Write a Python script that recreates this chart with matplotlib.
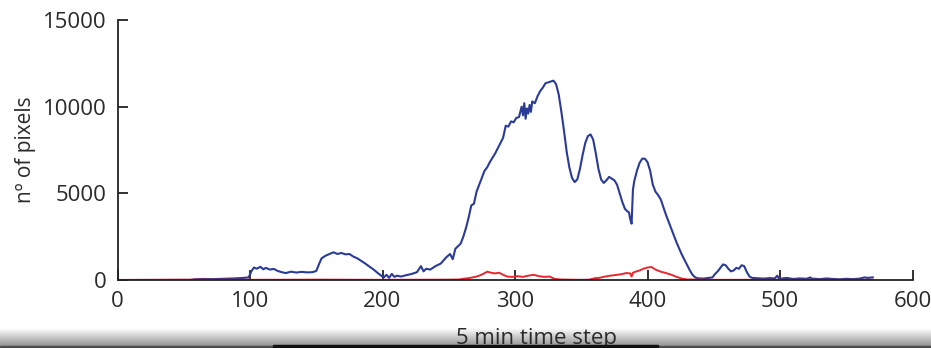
import numpy as np
import matplotlib.pyplot as plt
from matplotlib.patches import Rectangle

plt.rcParams['font.family'] = ['Open Sans', 'DejaVu Sans']

# blue series (time step, n of pixels)
blue_t = [0, 20, 40, 55, 58, 65, 72, 80, 88, 95, 99,
          101, 103, 105, 108, 110, 112, 115, 118, 121, 124, 127, 131, 135, 139, 143, 147, 150,
          152, 154, 157, 160, 163, 166, 169, 172, 175, 178, 181, 184, 187, 190, 193, 196, 199,
          201, 203, 205, 207, 209, 211, 214, 218, 222, 226, 229, 231, 233, 236, 240, 244, 248, 251, 253, 255, 257, 259,
          261, 263, 265, 267, 269, 271, 273, 275, 277, 279, 281, 283, 285, 287, 289, 291, 293, 295, 297, 299,
          301, 303, 305, 306, 307, 308, 309, 310, 311, 312, 313, 315, 317, 319, 321, 323, 325, 327, 329, 331, 333,
          335, 337, 339, 341, 343, 345, 347, 349, 351, 353, 355, 357, 359, 361, 363, 365, 367, 369, 371, 373,
          375, 377, 379, 381, 383, 385, 386, 387, 388,
          389, 390, 392, 394, 396, 398, 400, 402, 404, 406, 408, 410, 412, 414, 416, 418, 420, 422, 424, 426,
          428, 430, 432, 434, 436, 438,
          442, 446, 449, 451, 453, 455, 457, 459, 461, 463, 465, 467, 469, 471, 473, 475, 477, 479, 483, 488,
          492, 496, 498, 499, 501, 505, 510, 515, 520, 523, 524, 525, 530, 535, 540, 545, 550, 555, 560, 564,
          566, 570]
blue_n = [0, 0, 0, 0, 40, 60, 50, 70, 90, 120, 150,
          500, 720, 650, 760, 620, 700, 600, 640, 520, 450, 400, 480, 430, 470, 440, 450, 520,
          900, 1250, 1400, 1500, 1600, 1500, 1560, 1480, 1500, 1350, 1250, 1100, 950, 780, 620, 430, 250,
          150, 300, 120, 350, 180, 250, 200, 280, 350, 450, 800, 500, 650, 600, 800, 950, 1300, 1500, 1200, 1800, 1950, 2100,
          2500, 3000, 3600, 4300, 4400, 5100, 5500, 5900, 6300, 6500, 6800, 7050, 7300, 7600, 7900, 8200, 8900, 8850, 9150, 9100,
          9350, 9400, 10000, 9500, 10200, 9300, 9900, 9600, 10100, 9700, 10300, 10200, 10600, 10900, 11100, 11350, 11400, 11450, 11500, 11300, 10700,
          9700, 8600, 7400, 6500, 5900, 5650, 5800, 6400, 7200, 7900, 8300, 8400, 8100, 7300, 6400, 5800, 5600, 5750, 5950, 5850,
          5750, 5500, 5000, 4500, 4100, 3950, 3900, 3500, 3250,
          5200, 5700, 6300, 6750, 7000, 7000, 6800, 6300, 5500, 5100, 4900, 4650, 4200, 3750, 3350, 2950, 2550, 2150, 1800, 1450,
          1150, 850, 550, 300, 150, 100,
          80, 120, 150, 350, 500, 700, 900, 850, 650, 500, 550, 700, 650, 850, 800, 450, 200, 120, 100, 80,
          110, 90, 250, 100, 80, 120, 60, 90, 70, 150, 60, 80, 50, 90, 60, 40, 70, 50, 80, 150,
          120, 150]

# red series
red_t = [0, 50, 100, 150, 200, 250, 258, 262, 266, 270,
         273, 276, 279, 282, 285, 288, 291, 294,
         298, 302, 306, 310, 314, 318, 322, 326, 330, 334,
         340, 350, 356, 360, 364, 368, 372, 376, 380, 384,
         387, 388, 389, 391, 394, 397, 400, 403, 406, 410,
         414, 418, 422, 426, 430, 450, 500, 570]
red_n = [0, 20, 10, 20, 10, 20, 30, 80, 120, 180,
         250, 350, 480, 420, 380, 420, 300, 200,
         180, 220, 180, 250, 300, 220, 180, 200, 60, 30,
         20, 10, 20, 100, 130, 200, 250, 290, 330, 400,
         380, 200, 420, 480, 550, 650, 720, 750, 600, 480,
         400, 300, 180, 80, 30, 10, 10, 10]

fig = plt.figure(figsize=(9.31, 3.48), dpi=100)

# greyish shadow band at the bottom of the screenshot
band = fig.add_axes([0, 2 / 348, 1, 18 / 348])
grad = np.linspace(0.58, 1.0, 50).reshape(-1, 1)
band.imshow(grad, cmap='gray', vmin=0, vmax=1, aspect='auto',
            extent=[0, 1, 0, 1], origin='lower')
band.axis('off')
band.set_zorder(0)

ax = fig.add_axes([117.5 / 931, 1 - 280 / 348, 795 / 931, 260 / 348])
ax.set_zorder(1)
ax.plot(blue_t, blue_n, color='#2a3b97', lw=1.5)
ax.plot(red_t, red_n, color='#e8272f', lw=1.4)

ax.set_xlim(0, 600)
ax.set_ylim(0, 15000)
ax.set_xticks([0, 100, 200, 300, 400, 500, 600])
ax.set_yticks([0, 5000, 10000, 15000])
ax.spines['top'].set_visible(False)
ax.spines['right'].set_visible(False)
for s in ['left', 'bottom']:
    ax.spines[s].set_color('#222222')
    ax.spines[s].set_linewidth(1.3)
ax.tick_params(direction='in', length=7, width=1.3, color='#222222',
               labelsize=16, labelcolor='#2a2a2a')
ax.tick_params(axis='x', pad=8)
ax.tick_params(axis='y', pad=8)
ax.set_ylabel('nº of pixels', fontsize=15, color='#2a2a2a', labelpad=5)

fig.text(536 / 931, 4 / 348, '5 min time step', fontsize=16, color='#2a2a2a',
         ha='center', va='baseline', zorder=3)

# dark strip along the very bottom edge
fig.add_artist(Rectangle((0, 0), 1, 2 / 348, transform=fig.transFigure,
                         color='#4d4d4d', zorder=5))
fig.add_artist(Rectangle((273 / 931, 0), (658 - 273) / 931, 3 / 348,
                         transform=fig.transFigure, color='#111111', zorder=5))

fig.savefig('out.png', dpi=100)
